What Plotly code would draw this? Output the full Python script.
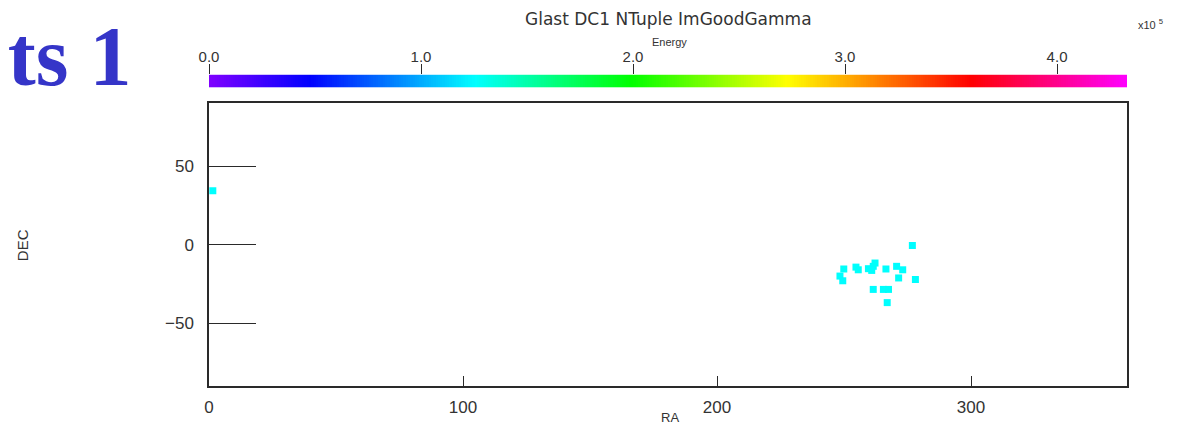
import numpy as np
import plotly.graph_objects as go

# ---- data ----
ra = [1.5, 276.9, 249.9, 248.4, 249.5, 254.7, 255.6, 259.6, 261.5, 260.9, 262.2,
      266.5, 270.7, 273.1, 271.5, 278.1, 261.5, 265.5, 267.5, 267.0]
dec = [34.3, -0.6, -15.5, -20.0, -23.0, -14.3, -16.0, -15.3, -13.8, -16.4, -11.7,
       -15.5, -13.8, -16.0, -21.2, -22.2, -28.5, -28.5, -28.5, -36.9]
energy = [1.26, 1.25, 1.27, 1.26, 1.25, 1.26, 1.27, 1.26, 1.25, 1.26, 1.27,
          1.26, 1.25, 1.26, 1.27, 1.26, 1.25, 1.26, 1.27, 1.26]  # x10^5

energy_max = 4.33
energy_ticks = [0, 1, 2, 3, 4]
energy_ticktext = ["0.0", "1.0", "2.0", "3.0", "4.0"]
ra_ticks = [0, 100, 200, 300]
dec_ticks = [-50, 0, 50]

colorscale = [[0.0, "#8000ff"], [0.11, "#0000ff"], [0.29, "#00ffff"],
              [0.46, "#00ff00"], [0.63, "#ffff00"], [0.83, "#ff0000"],
              [1.0, "#ff00ff"]]

# page body has an 8px margin; figure is sized so it ends at the window edge
OFF = 8
W, H = 1194 - OFF, 429 - OFF
PL, PR, PT, PB = 209, 1127, 20, 389      # screen pixels of the paper area
ML, MR, MT, MB = PL - OFF, 1194 - PR, PT - OFF, 429 - PB
ph = PB - PT
pw = PR - PL
def ypix(p):
    return (PB - p) / ph
def xpix(p):
    return (p - PL) / pw

font_family = "Liberation Sans, Arial, sans-serif"
tick_color = "#2a2a2a"
text_color = "#333333"

fig = go.Figure()

# colour bar gradient (scale only)
grad = np.linspace(0, energy_max, 400)
fig.add_trace(go.Heatmap(x=grad, y=[0], z=[grad], colorscale=colorscale,
                         zmin=0, zmax=energy_max, showscale=False,
                         xaxis="x2", yaxis="y2", hoverinfo="skip"))

fig.add_trace(go.Scatter(
    x=ra, y=dec, mode="markers",
    marker=dict(symbol="square", size=7, color=energy, colorscale=colorscale,
                cmin=0, cmax=energy_max, line=dict(width=0)),
    cliponaxis=True, showlegend=False))

fig.update_layout(
    width=W, height=H,
    margin=dict(l=ML, r=MR, t=MT, b=MB),
    paper_bgcolor="white", plot_bgcolor="white",
    font=dict(family=font_family, size=12, color=text_color),
    xaxis=dict(range=[0, 361.4], tickvals=ra_ticks, ticks="inside", ticklen=10,
               tickcolor=tick_color, showgrid=False, zeroline=False,
               showline=True, linecolor=tick_color, linewidth=1.5, mirror=True,
               domain=[0, 1], anchor="y", ticklabelstandoff=5,
               tickfont=dict(size=17, color=text_color)),
    yaxis=dict(range=[-90, 90], tickvals=dec_ticks, ticks="inside", ticklen=47,
               tickcolor=tick_color, showgrid=False, zeroline=False,
               showline=True, linecolor=tick_color, linewidth=1.5, mirror=True,
               domain=[0, ypix(104)], anchor="x", ticklabelstandoff=10,
               tickfont=dict(size=17, color=text_color)),
    xaxis2=dict(range=[0, energy_max], tickvals=energy_ticks,
                ticktext=energy_ticktext, side="top", ticks="outside",
                ticklen=10, tickcolor=tick_color, showgrid=False,
                zeroline=False, showline=False, anchor="y2", domain=[0, 1],
                ticklabelstandoff=-4,
                tickfont=dict(size=15, color=text_color)),
    yaxis2=dict(range=[-0.5, 0.5], domain=[ypix(88), ypix(75)], visible=False,
                anchor="x2"),
    annotations=[
        dict(text="Glast DC1 NTuple ImGoodGamma", x=xpix(668), y=ypix(19),
             xref="paper", yref="paper", showarrow=False,
             xanchor="center", yanchor="middle",
             font=dict(family="DejaVu Sans, sans-serif", size=17,
                       color=text_color)),
        dict(text="Energy", x=xpix(669), y=ypix(42), xref="paper",
             yref="paper", showarrow=False, xanchor="center",
             yanchor="middle", font=dict(size=11, color=text_color)),
        dict(text="x10 <sup>5</sup>", x=xpix(1136), y=ypix(24), xref="paper",
             yref="paper", showarrow=False, xanchor="left", yanchor="middle",
             font=dict(size=11, color=text_color)),
        dict(text="DEC", x=xpix(22), y=ypix(247), xref="paper", yref="paper",
             showarrow=False, textangle=-90, xanchor="center",
             yanchor="middle", font=dict(size=15, color=text_color)),
        dict(text="RA", x=xpix(670), y=ypix(421), xref="paper", yref="paper",
             showarrow=False, xanchor="center", yanchor="middle",
             font=dict(size=13, color=text_color)),
        dict(text="<b>nts 1</b>", x=xpix(133), y=ypix(57), xref="paper",
             yref="paper", showarrow=False, xanchor="right", yanchor="middle",
             font=dict(family="Liberation Serif, Times New Roman, serif",
                       size=84, color="#3535c8")),
    ],
)

fig.write_html("out.html")
